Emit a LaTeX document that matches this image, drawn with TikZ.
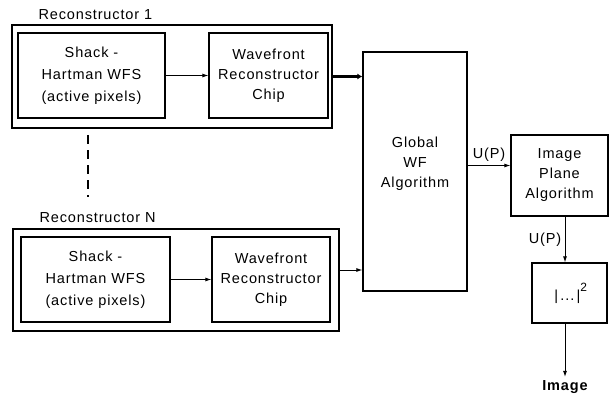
\documentclass[tikz,border=0pt]{standalone}
\usepackage{fontspec}
\setmainfont[LetterSpace=6]{Liberation Sans}
\usetikzlibrary{arrows.meta}

\begin{document}
\begin{tikzpicture} [x = 1pt, y = -1pt, font = \fontsize{14.5}{20}\selectfont,
	box/.style = {draw, line width = 1.2pt, inner sep = 0pt, align = center},
	wfsbox/.style = {box, font = \fontsize{14.5}{22}\selectfont},
	arr/.style = {line width = 0.9pt, -{Latex[length = 6pt, width = 4pt]}}]
	\useasboundingbox (0,0) rectangle (609,398);

	% reconstructor 1
	\node [box, minimum width = 320pt, minimum height = 103pt] (rec1) at (172,76.5) {};
	\node [wfsbox, minimum width = 147pt, minimum height = 85pt] (sh1) at (91.5,75.5) {Shack -\\Hartman WFS\\(active pixels)};
	\node [box, minimum width = 119pt, minimum height = 85pt] (wr1) at (268.5,75.5) {Wavefront\\Reconstructor\\Chip};
	\node [anchor = base west] (lab1) at (35,20) {Reconstructor 1};

	% reconstructor N
	\node [box, minimum width = 326pt, minimum height = 102pt] (recN) at (176,280) {};
	\node [wfsbox, minimum width = 149pt, minimum height = 85pt] (shN) at (95.5,279.5) {Shack -\\Hartman WFS\\(active pixels)};
	\node [box, minimum width = 118pt, minimum height = 85pt] (wrN) at (271,279.5) {Wavefront\\Reconstructor\\Chip};
	\node [anchor = base west] (labN) at (36,222) {Reconstructor N};

	\draw [line width = 2pt, dash pattern = on 9pt off 6pt] (88,135) -- (88,197);

	% global and image plane
	\node [box, minimum width = 104pt, minimum height = 239pt] (global) at (415,171.5) {};
	\node [align = center] (globtxt) at (415,164) {Global\\WF\\Algorithm};
	\node [box, minimum width = 97pt, minimum height = 81pt] (ipa) at (559.5,175.5) {Image\\Plane\\Algorithm};
	\node [box, minimum width = 75pt, minimum height = 60pt] (sq) at (569.5,293) {\,|\,...\,|\raisebox{1.2ex}{\fontsize{12}{12}\selectfont 2}};
	\node [font = \fontsize{14.5}{20}\selectfont\bfseries] (img) at (565,387) {Image};

	\draw [arr] (sh1.east) -- (sh1.east -| wr1.west);
	\draw [arr] (shN.east) -- (shN.east -| wrN.west);
	\draw [arr, line width = 3pt, -{Latex[length = 5pt, width = 6pt]}] (rec1.east) -- (rec1.east -| global.west);
	\draw [arr] ([yshift = 10pt]recN.east) -- ([yshift = 10pt]recN.east -| global.west);
	\draw [arr] ([yshift = 10pt]ipa.west -| global.east) -- node [above] {U(P)} ([yshift = 10pt]ipa.west);
	\draw [arr] ([xshift = -4.5pt]sq.north |- ipa.south) -- node [left] {U(P)} ([xshift = -4.5pt]sq.north);
	\draw [arr] ([xshift = -4.5pt]sq.south) -- (img.north);
\end{tikzpicture}
\end{document}
